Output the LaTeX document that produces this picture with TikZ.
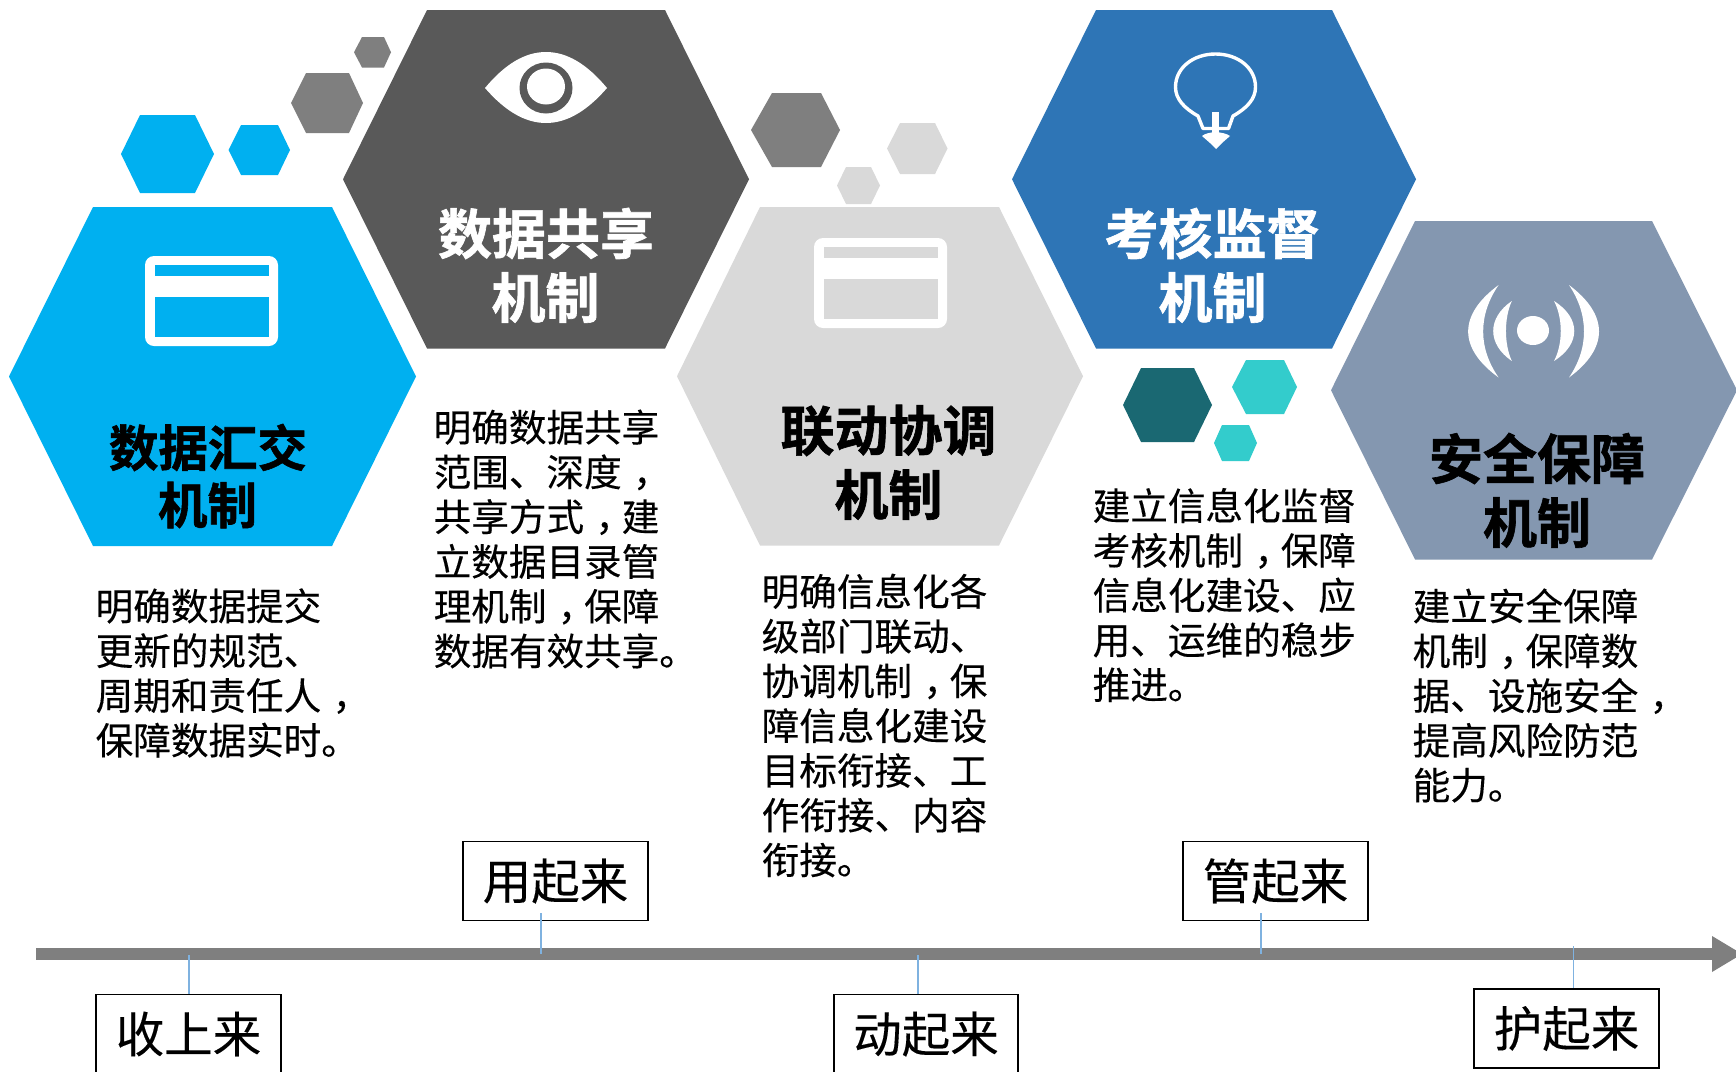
\documentclass[tikz,border=0pt]{standalone}
\usepackage{fontspec}
\setmainfont{Noto Sans CJK SC}
\newfontfamily\titlef{Noto Sans CJK SC Bold}[FakeBold=1.2]
\newfontfamily\bodyf{Noto Sans CJK SC}[FakeBold=0.25]
\definecolor{hblue}{HTML}{00B0F0}
\definecolor{hdark}{HTML}{595959}
\definecolor{hgray}{HTML}{7F7F7F}
\definecolor{hlight}{HTML}{D9D9D9}
\definecolor{hsteel}{HTML}{2E75B6}
\definecolor{hslate}{HTML}{8497B0}
\definecolor{hteal}{HTML}{1A6872}
\definecolor{haqua}{HTML}{33CCCC}
\definecolor{ticklc}{HTML}{7FB2E0}
\newcommand{\hexa}[7]{\fill[#7] (#1,{(#5+#6)/2}) -- (#2,#5) -- (#3,#5) -- (#4,{(#5+#6)/2}) -- (#3,#6) -- (#2,#6) -- cycle;}
\newcommand{\cardicon}[3]{%
 \begin{scope}[shift={(#1,#2)}]
 \fill[white,rounded corners=9pt] (0,0) rectangle (133,90);
 \fill[#3] (10,9) rectangle (124,20);
 \fill[#3] (10,41) rectangle (124,81);
 \end{scope}}
\newcommand{\cma}{\kern.3em，\kern-.3em}
\tikzset{
 body/.style={anchor=west,align=left,inner sep=0pt,font=\bodyf\fontsize{37.6}{44.75}\selectfont,text=black},
 title/.style={inner sep=0pt,font=\titlef\fontsize{54}{54}\selectfont},
 titlea/.style={inner sep=0pt,font=\titlef\fontsize{49.5}{49.5}\selectfont},
 tag/.style={draw=black,line width=1.9pt,fill=white,minimum width=184.5pt,minimum height=79pt,inner sep=0pt,font=\bodyf\fontsize{48.5}{48.5}\selectfont},
 tick/.style={draw=ticklc,line width=1.2pt},
 crescent/.style={fill=white}
}
\begin{document}
\begin{tikzpicture}[x=1pt,y=-1pt]
\clip (0,0) rectangle (1736,1071);
\fill[white] (0,0) rectangle (1736,1071);
% big hexagons
\hexa{9}{93}{332}{416}{207}{546}{hblue}
\hexa{343}{427}{665}{749}{10}{348.5}{hdark}
\hexa{677}{760}{999}{1083}{207}{545.5}{hlight}
\hexa{1012}{1096}{1332}{1416}{10}{348.5}{hsteel}
\hexa{1331}{1415}{1652}{1737}{221}{559.5}{hslate}
% small hexagons
\hexa{121}{140}{195}{214}{115}{193}{hblue}
\hexa{228.5}{241}{278}{290}{125}{175}{hblue}
\hexa{291}{306}{349}{363}{73}{133}{hgray}
\hexa{354}{362}{384}{391}{37}{67.5}{hgray}
\hexa{751}{772}{821}{840}{93}{167}{hgray}
\hexa{887}{900}{935}{947.5}{123}{174}{hlight}
\hexa{837}{846}{871}{880}{167}{204}{hlight}
\hexa{1123}{1141}{1194}{1212}{368}{442}{hteal}
\hexa{1232}{1246}{1284}{1297}{360}{414}{haqua}
\hexa{1214}{1222}{1249}{1257}{425}{461}{haqua}
% icons
\cardicon{145}{256}{hblue}
\cardicon{814}{238}{hlight}
% eye
\fill[white] (485,88) .. controls (505,64) and (525,52) .. (546,52) .. controls (567,52) and (587,64) .. (607,88) .. controls (587,111) and (567,123) .. (546,123) .. controls (525,123) and (505,111) .. (485,88) -- cycle;
\fill[hdark] (546,88) ellipse [x radius=26.5, y radius=25.5];
\fill[white] (546,86.5) ellipse [x radius=19, y radius=18];
% bulb
\draw[white,line width=3.4pt,line join=round] (1203,128.5) -- (1198,116) .. controls (1184,108) and (1175.5,99) .. (1175.5,87) .. controls (1175.5,68) and (1193,54) .. (1215.5,54) .. controls (1238,54) and (1255.5,68) .. (1255.5,87) .. controls (1255.5,99) and (1247,108) .. (1233,116) -- (1228.5,128.5) -- cycle;
\fill[white] (1212,112) rectangle (1219,135);
\fill[white] (1202,136) .. controls (1208,131) and (1223,131) .. (1230,136) -- (1222,143) -- (1216,149) -- (1210,143) -- cycle;
% signal
\fill[white] (1533,330.5) ellipse [x radius=16, y radius=14.5];
\fill[crescent] (1498.6,285) .. controls (1458,315) and (1458,348) .. (1498.6,377.5) .. controls (1478,348) and (1478,315) .. (1498.6,285) -- cycle;
\fill[crescent] (1511.8,301) .. controls (1487,318) and (1487,344) .. (1511.8,361) .. controls (1504,344) and (1504,318) .. (1511.8,301) -- cycle;
\fill[crescent] (1569,285) .. controls (1609,315) and (1609,348) .. (1569,377.5) .. controls (1589,348) and (1589,315) .. (1569,285) -- cycle;
\fill[crescent] (1554,301) .. controls (1581,318) and (1581,344) .. (1554,361) .. controls (1563,344) and (1563,318) .. (1554,301) -- cycle;
% titles
\node[titlea,text=black] (t1a) at (208,447.5) {数据汇交};
\node[titlea,text=black] (t1b) at (207.5,505) {机制};
\node[title,text=white] (t2a) at (546,233.5) {数据共享};
\node[title,text=white] (t2b) at (545.5,297.5) {机制};
\node[title,text=black] (t3a) at (888.5,430.5) {联动协调};
\node[title,text=black] (t3b) at (888.5,494.5) {机制};
\node[title,text=white] (t4a) at (1212.5,233.5) {考核监督};
\node[title,text=white] (t4b) at (1212.5,297.5) {机制};
\node[title,text=black] (t5a) at (1537,458.5) {安全保障};
\node[title,text=black] (t5b) at (1537,522.5) {机制};
% body text
\node[body] (d1) at (95.5,673) {明确数据提交\\更新的规范、\\周期和责任人\cma\\保障数据实时。};
\node[body] (d2) at (433.5,539) {明确数据共享\\范围、深度\cma\\共享方式\cma 建\\立数据目录管\\理机制\cma 保障\\数据有效共享。};
\node[body] (d3) at (761.5,725.5) {明确信息化各\\级部门联动、\\协调机制\cma 保\\障信息化建设\\目标衔接、工\\作衔接、内容\\衔接。};
\node[body] (d4) at (1092.5,595) {建立信息化监督\\考核机制\cma 保障\\信息化建设、应\\用、运维的稳步\\推进。};
\node[body] (d5) at (1412.5,695.5) {建立安全保障\\机制\cma 保障数\\据、设施安全\cma\\提高风险防范\\能力。};
% axis
\coordinate (axisstart) at (36,954);
\coordinate (axisbarend) at (1712,954);
\coordinate (axistip) at (1742,954);
\fill[hgray] (36,948) rectangle (1713,960);
\fill[hgray] (1712,936) -- (1742,954) -- (1712,972) -- cycle;
% tags
\node[tag] (b1) at (188.5,1034) {收上来};
\node[tag] (b2) at (555.5,881) {用起来};
\node[tag] (b3) at (926,1034) {动起来};
\node[tag] (b4) at (1275.5,881) {管起来};
\node[tag] (b5) at (1566.5,1028.5) {护起来};
\coordinate (p1) at (189,955);
\coordinate (p2) at (541,954);
\coordinate (p3) at (918,955);
\coordinate (p4) at (1261,954);
\coordinate (p5) at (1573.5,946);
\draw[tick] (p1) -- (b1.north -| p1);
\draw[tick] ([yshift=8pt]b2.south -| p2) -- (p2);
\draw[tick] (p3) -- (b3.north -| p3);
\draw[tick] ([yshift=8pt]b4.south -| p4) -- (p4);
\draw[tick] (p5) -- (b5.north -| p5);
\end{tikzpicture}
\end{document}
